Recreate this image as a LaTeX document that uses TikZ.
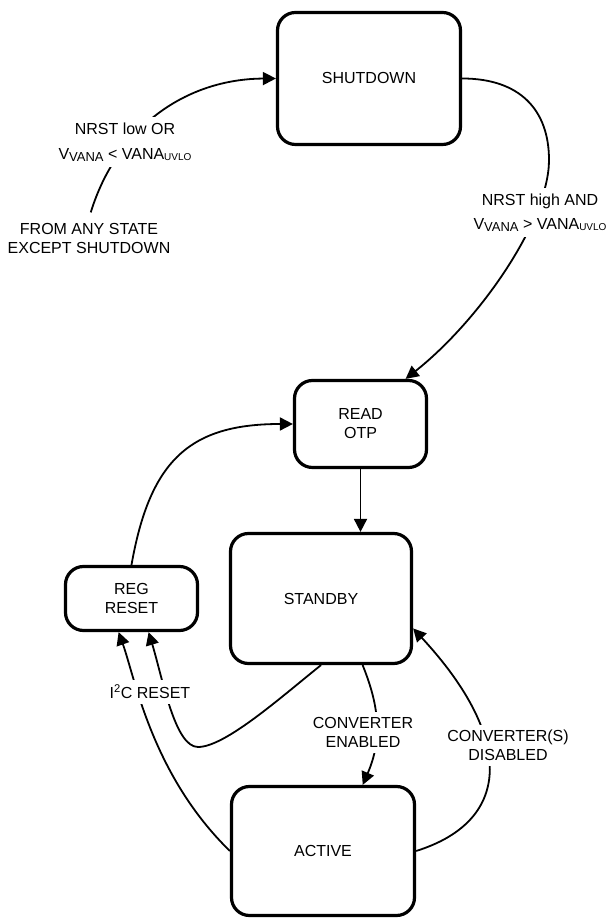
\documentclass[tikz,border=0pt]{standalone}
\usepackage{fontspec}
\setmainfont{Liberation Sans}
\usepackage{tikz}
\usetikzlibrary{positioning}
\usetikzlibrary{arrows.meta}
\def\lo(#1){\raisebox{-2.5pt}{\fontsize{13}{13}\selectfont #1}}
\def\uv(#1){\raisebox{-1.5pt}{\fontsize{10}{10}\selectfont #1}}
\tikzstyle{state} = [rectangle, rounded corners=18pt, draw=black, line width=3.2pt, align=center]
\tikzstyle{arrow} = [line width=1.8pt, -{Triangle[length=13pt,width=13pt]}]
\tikzstyle{lbl} = [fill=white, inner sep=5pt, align=center]

\begin{document}
\begin{tikzpicture}[x=1pt, y=1pt, every node/.style={font=\fontsize{16}{19}\selectfont}]
\useasboundingbox (0,0) rectangle (609,920);
% states
\node (shut) [state, minimum width=183pt, minimum height=132pt] at (369,841.5) {SHUTDOWN};
\node (otp) [state, minimum width=132pt, minimum height=87pt] at (360.5,496) {READ\\OTP};
\node (stby) [state, minimum width=181pt, minimum height=130pt] at (321,321.5) {STANDBY};
\node (reg) [state, minimum width=132pt, minimum height=64pt] at (131.5,321.5) {REG\\RESET};
\node (act) [state, minimum width=183pt, minimum height=129pt] at (323,69) {ACTIVE};
\node (fromany) [lbl] at (89,681.5) {FROM ANY STATE\\EXCEPT SHUTDOWN};
% transitions
\draw[arrow, shorten <=6pt] (fromany.north) .. controls (117,793) and (186,841) .. (shut.west);
\draw[arrow] (shut.east) .. controls (520,841.5) and (549,810) .. (549,760) .. controls (549,700) and (480,600) .. (otp.45);
\draw[arrow] (otp.south) -- (otp.south |- stby.north);
\draw[arrow] (reg.north) .. controls (150,460) and (190,496) .. (otp.west);
\draw[arrow] (stby.south) .. controls (280,222) and (225,173) .. (198,173) .. controls (175,173) and (163,240) .. (reg.-63);
\draw[arrow] (act.west) .. controls (152,145) and (135,242) .. (reg.-111);
\draw[arrow] (stby.-58) .. controls (380,212) and (382,180) .. (act.59);
\draw[arrow] (act.east) .. controls (515,100) and (512,185) .. (stby.-18);
% labels
\node (lowor) [lbl] at (125,778) {NRST low OR\\[6pt]V\lo(VANA) < VANA\uv(UVLO)};
\node (highand) [lbl] at (540,707.5) {NRST high AND\\[5pt]V\lo(VANA) > VANA\uv(UVLO)};
\node (i2c) [lbl] at (150,228) {I\textsuperscript{2}C RESET};
\node (conven) [lbl] at (363,187.5) {CONVERTER\\ENABLED};
\node (convdis) [lbl] at (508,174.5) {CONVERTER(S)\\DISABLED};
\end{tikzpicture}
\end{document}
